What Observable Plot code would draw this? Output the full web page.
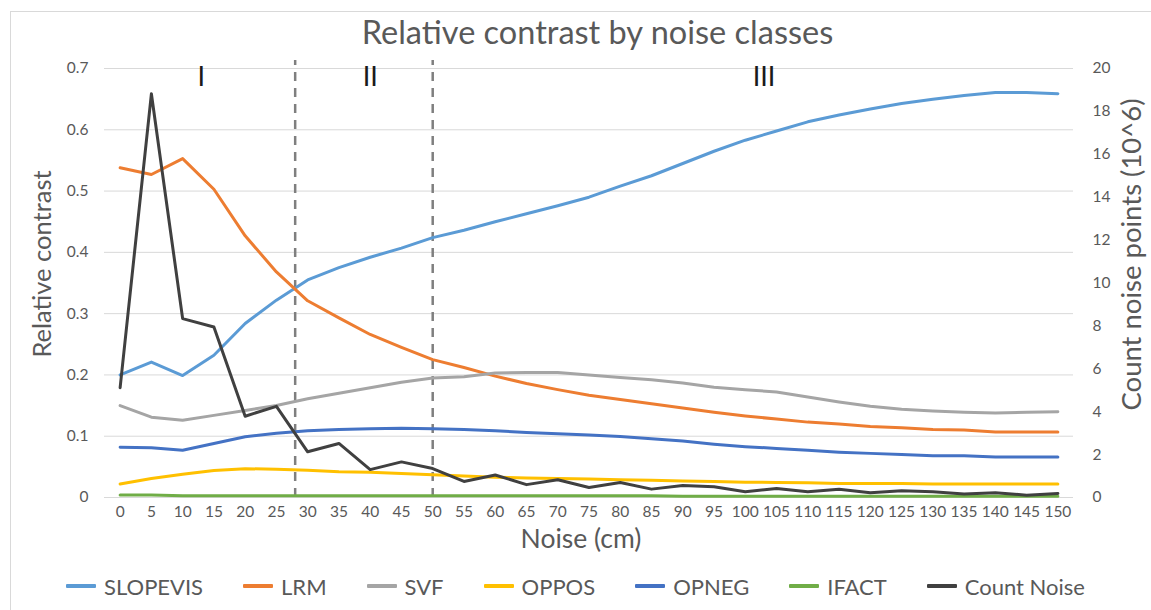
<!DOCTYPE html>
<html>
<head>
<meta charset="utf-8">
<script src="https://cdn.jsdelivr.net/npm/d3@7"></script>
<script src="https://cdn.jsdelivr.net/npm/@observablehq/plot@0.6"></script>
<style>
  html, body { margin: 0; padding: 0; background: #fff; }
  #wrap { position: relative; width: 1151px; height: 610px; overflow: hidden; background: #fff; font-family: Lato, sans-serif; }
  #frame { position: absolute; left: 10px; top: 11px; width: 1200px; height: 700px; border: 1px solid #d9d9d9; box-sizing: border-box; pointer-events: none; z-index: 5; }
  #title { position: absolute; left: 44px; top: 12px; width: 1107px; height: 40px; line-height: 40px; text-align: center; font-size: 32.5px; color: #595959; }
  #chart { position: absolute; left: 0; top: 50px; }
  #legend { position: absolute; left: 0; top: 566px; width: 1151px; height: 40px; display: flex; justify-content: center; align-items: center; gap: 40px; font-size: 22px; color: #595959; }
  .item { display: flex; align-items: center; }
  .sw { width: 30px; height: 4.5px; margin-right: 8px; border-radius: 1px; }
</style>
</head>
<body>
<div id="wrap">
  <div id="title">Relative contrast by noise classes</div>
  <div id="chart"></div>
  <div id="legend"></div>
  <div id="frame"></div>
</div>
<script>
// ---- data ----
const noise = [0,5,10,15,20,25,30,35,40,45,50,55,60,65,70,75,80,85,90,95,100,105,110,115,120,125,130,135,140,145,150];
const slopevis = [0.200,0.221,0.199,0.232,0.284,0.322,0.355,0.375,0.392,0.407,0.424,0.436,0.450,0.463,0.476,0.490,0.508,0.525,0.545,0.565,0.583,0.598,0.613,0.624,0.634,0.643,0.650,0.656,0.661,0.661,0.659];
const lrm = [0.538,0.527,0.553,0.503,0.427,0.368,0.321,0.293,0.266,0.245,0.225,0.212,0.198,0.186,0.176,0.167,0.160,0.153,0.146,0.139,0.133,0.128,0.123,0.120,0.116,0.114,0.111,0.110,0.107,0.107,0.107];
const svf = [0.150,0.131,0.126,0.134,0.142,0.150,0.161,0.170,0.179,0.188,0.195,0.197,0.203,0.204,0.204,0.200,0.196,0.192,0.187,0.180,0.176,0.172,0.164,0.156,0.149,0.144,0.141,0.139,0.138,0.139,0.140];
const oppos = [0.022,0.031,0.038,0.044,0.047,0.046,0.0445,0.042,0.041,0.039,0.037,0.035,0.033,0.032,0.031,0.030,0.029,0.028,0.027,0.026,0.025,0.0245,0.024,0.023,0.023,0.023,0.022,0.022,0.022,0.022,0.022];
const opneg = [0.082,0.081,0.077,0.088,0.099,0.105,0.109,0.111,0.112,0.113,0.112,0.111,0.109,0.106,0.104,0.102,0.0995,0.096,0.092,0.087,0.083,0.080,0.077,0.074,0.072,0.070,0.068,0.068,0.066,0.066,0.066];
const ifact = [0.004,0.004,0.003,0.003,0.003,0.003,0.003,0.003,0.003,0.003,0.003,0.003,0.003,0.003,0.003,0.003,0.003,0.003,0.002,0.002,0.002,0.002,0.002,0.002,0.002,0.002,0.002,0.002,0.002,0.002,0.002];
const countNoise = [5.12,18.82,8.34,7.95,3.79,4.25,2.13,2.52,1.30,1.66,1.35,0.75,1.05,0.60,0.83,0.47,0.70,0.39,0.56,0.50,0.27,0.42,0.27,0.38,0.22,0.31,0.27,0.16,0.22,0.11,0.19];

const seriesNames = ["SLOPEVIS","LRM","SVF","OPPOS","OPNEG","IFACT","Count Noise"];
const seriesColors = ["#5B9BD5","#ED7D31","#A5A5A5","#FFC000","#4472C4","#70AD47","#404040"];

const relTicks = [0,0.1,0.2,0.3,0.4,0.5,0.6,0.7];
const countTicks = [0,2,4,6,8,10,12,14,16,18,20];
const classBounds = [28, 50];
const classLabels = ["I","II","III"];
const classLabelX = [13, 40, 103];

// ---- chart ----
const relMax = 0.7, countMax = 20;
const k = relMax / countMax; // secondary axis mapping
const relSeries = [slopevis, lrm, svf, oppos, opneg, ifact];

const lineMarks = relSeries.map((vals, s) =>
  Plot.line(noise, {x: d => d, y: (d, i) => vals[i], stroke: seriesColors[s], strokeWidth: 3, strokeLinejoin: "round", strokeLinecap: "round"})
);
lineMarks.push(
  Plot.line(noise, {x: d => d, y: (d, i) => countNoise[i] * k, stroke: seriesColors[6], strokeWidth: 3, strokeLinejoin: "round", strokeLinecap: "round"})
);

const chart = Plot.plot({
  width: 1151,
  height: 500,
  marginTop: 18,
  marginBottom: 53,
  marginLeft: 104,
  marginRight: 78,
  style: {fontFamily: "Lato, sans-serif", color: "#595959", background: "transparent", overflow: "visible"},
  x: {type: "linear", domain: [-2.5, 152.5]},
  y: {domain: [0, relMax]},
  marks: [
    Plot.gridY(relTicks, {stroke: "#d9d9d9", strokeOpacity: 1, strokeWidth: 1}),
    Plot.axisY(relTicks, {anchor: "left", tickSize: 0, tickPadding: 16, fontSize: 15.5, label: null, tickFormat: d => d === 0 ? "0" : d.toFixed(1)}),
    Plot.axisY(countTicks.map(c => c * k), {anchor: "right", tickSize: 0, tickPadding: 19, fontSize: 15.5, label: null, tickFormat: d => String(Math.round(d / k))}),
    Plot.axisX(noise, {tickSize: 0, tickPadding: 8, fontSize: 15.5, label: null}),
    Plot.ruleX(classBounds, {y1: 0, y2: 0.713, stroke: "#7f7f7f", strokeWidth: 2.5, strokeDasharray: "9,7"}),
    Plot.text(classLabels, {x: (d, i) => classLabelX[i], y: 0.685, text: d => d, fontSize: 27, fill: "#1a1a1a"}),
    ...lineMarks,
    Plot.text(["Noise (cm)"], {frameAnchor: "bottom", textAnchor: "middle", lineAnchor: "middle", dx: -8, dy: 42, text: d => d, fontSize: 26.5, fill: "#595959"}),
    Plot.text(["Relative contrast"], {frameAnchor: "left", textAnchor: "middle", lineAnchor: "middle", dx: -62, dy: -19, rotate: -90, text: d => d, fontSize: 25.5, fill: "#595959"}),
    Plot.text(["Count noise points (10^6)"], {frameAnchor: "right", textAnchor: "middle", lineAnchor: "middle", dx: 59, dy: -28.5, rotate: -90, text: d => d, fontSize: 27.5, fill: "#595959"})
  ]
});
document.getElementById("chart").appendChild(chart);

// ---- legend ----
const legend = document.getElementById("legend");
seriesNames.forEach((name, i) => {
  const item = document.createElement("div");
  item.className = "item";
  const sw = document.createElement("span");
  sw.className = "sw";
  sw.style.background = seriesColors[i];
  const lab = document.createElement("span");
  lab.textContent = name;
  item.appendChild(sw);
  item.appendChild(lab);
  legend.appendChild(item);
});
</script>
</body>
</html>
